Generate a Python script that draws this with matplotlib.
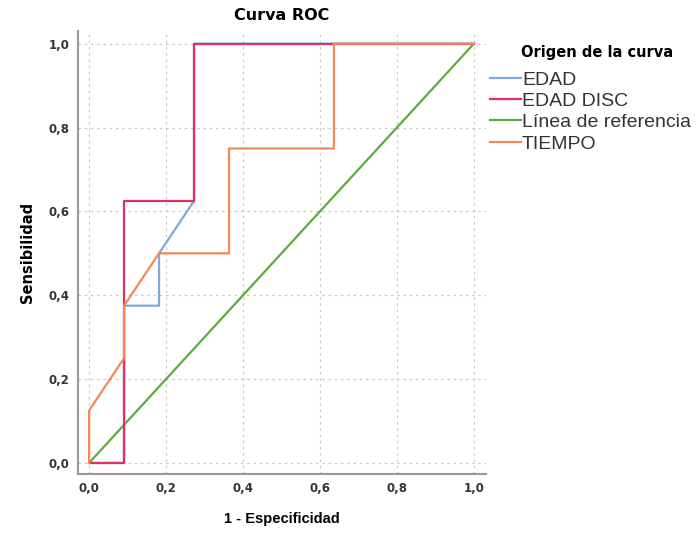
import numpy as np
import matplotlib
matplotlib.use('Agg')
import matplotlib.pyplot as plt
from matplotlib.ticker import FuncFormatter

plt.rcParams['font.family'] = ['Liberation Sans', 'DejaVu Sans']

# curve points
edadX = [0, 1/11, 1/11, 2/11, 2/11, 3/11, 3/11, 1]
edadY = [0, 0, 0.375, 0.375, 0.5, 0.625, 1, 1]
discX = [0, 1/11, 1/11, 3/11, 3/11, 1]
discY = [0, 0, 0.625, 0.625, 1, 1]
refX = [0, 1]
refY = [0, 1]
tiempoX = [0, 0, 1/11, 1/11, 2/11, 4/11, 4/11, 7/11, 7/11, 1]
tiempoY = [0, 0.125, 0.25, 0.375, 0.5, 0.5, 0.75, 0.75, 1, 1]
ticks = [0, 0.2, 0.4, 0.6, 0.8, 1.0]

fig = plt.figure(figsize=(6.96, 5.36), dpi=100)
ax = fig.add_axes([0.112, 0.116, 0.586, 0.826])

ax.plot(edadX, edadY, color='#7fa8dc', lw=1.6, label='EDAD', zorder=3)
ax.plot(discX, discY, color='#e0306a', lw=1.6, label='EDAD DISC', zorder=4)
ax.plot(refX, refY, color='#5aad3c', lw=1.6, label='Línea de referencia', zorder=2)
ax.plot(tiempoX, tiempoY, color='#f38a55', lw=1.6, label='TIEMPO', zorder=5)

ax.set_xlim(-0.029, 1.031)
ax.set_ylim(-0.026, 1.03)
ax.set_xticks(ticks)
ax.set_yticks(ticks)
fmt = FuncFormatter(lambda v, p: f'{v:.1f}'.replace('.', ','))
ax.xaxis.set_major_formatter(fmt)
ax.yaxis.set_major_formatter(fmt)
ax.tick_params(length=0, labelsize=8.5, labelcolor='#333333', pad=6)
for lbl in ax.get_xticklabels() + ax.get_yticklabels():
    lbl.set_fontweight('bold')
    lbl.set_family('DejaVu Sans')

ax.grid(True, color='#c8c8c8', linestyle=(0, (2, 3)), lw=0.9)
for s in ['top', 'right']:
    ax.spines[s].set_visible(False)
for s in ['left', 'bottom']:
    ax.spines[s].set_color('#a09890')
    ax.spines[s].set_linewidth(1.5)

ax.set_title('Curva ROC', fontsize=11.5, fontweight='bold', family='DejaVu Sans', pad=8)
ax.set_xlabel('1 - Especificidad', fontsize=10.5, fontweight='bold', labelpad=12)
ax.set_ylabel('Sensibilidad', fontsize=10.5, fontweight='bold', family='DejaVu Sans',
              labelpad=10)

fig.text(597 / 696, 1 - 52 / 536, 'Origen de la curva', fontsize=10.5, fontweight='bold',
         family='DejaVu Sans', ha='center', va='center')
handles, labels = ax.get_legend_handles_labels()
leg = fig.legend(handles, labels, loc='upper left', bbox_to_anchor=(490 / 696, 1 - 71 / 536),
                 frameon=False, fontsize=14, handlelength=1.6, handletextpad=0.05,
                 labelspacing=0.19, borderaxespad=0, borderpad=0)
for t in leg.get_texts():
    t.set_color('#333333')

plt.savefig('out.png', dpi=100)
